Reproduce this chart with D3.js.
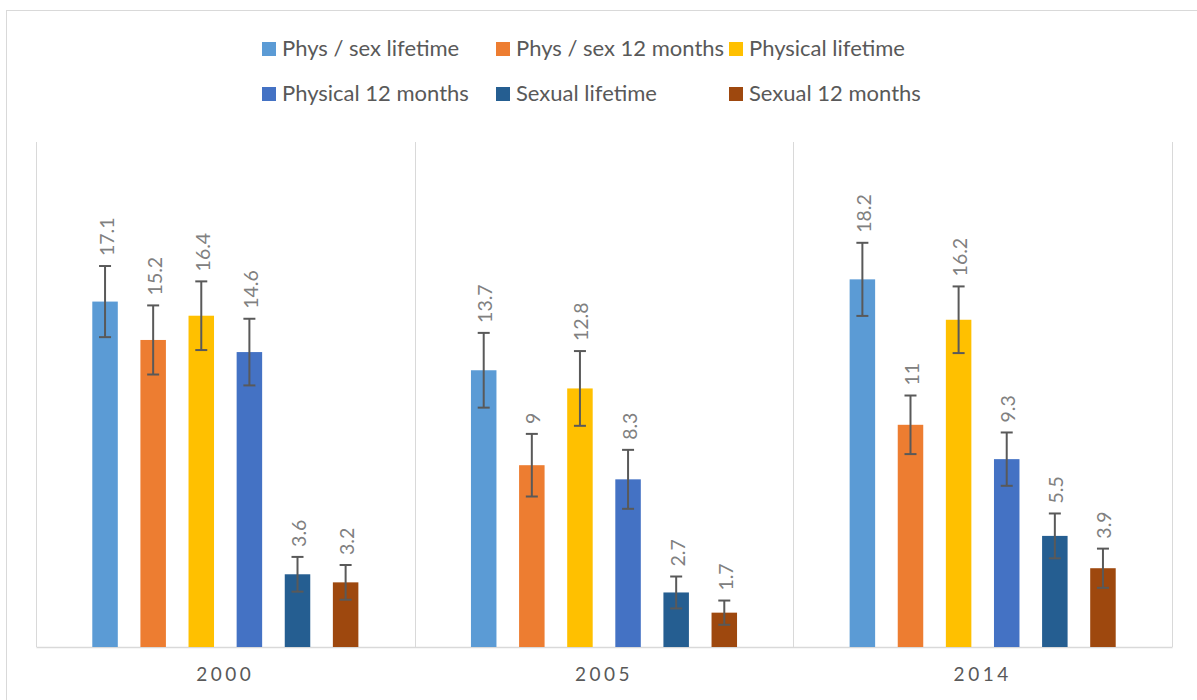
<!DOCTYPE html>
<html>
<head>
<meta charset="utf-8">
<script src="https://cdn.jsdelivr.net/npm/d3@7"></script>
<style>
  html, body { margin: 0; padding: 0; background: #fff; }
  svg { display: block; }
  text { font-family: Lato, "Open Sans", sans-serif; }
</style>
</head>
<body>
<svg id="chart" width="1197" height="700"></svg>
<script>
// ---- data ----
const years = ["2000", "2005", "2014"];
const seriesNames = ["Phys / sex lifetime", "Phys / sex 12 months", "Physical lifetime",
                     "Physical 12 months", "Sexual lifetime", "Sexual 12 months"];
const seriesColors = ["#5B9BD5", "#ED7D31", "#FFC000", "#4472C4", "#255E91", "#9E480E"];
const physSexLifetime = [17.1, 13.7, 18.2];
const physSex12m      = [15.2, 9.0, 11.0];
const physLifetime    = [16.4, 12.8, 16.2];
const phys12m         = [14.6, 8.3, 9.3];
const sexLifetime     = [3.6, 2.7, 5.5];
const sex12m          = [3.2, 1.7, 3.9];
// error bar half-widths (±)
const errPhysSexLifetime = [1.76, 1.85, 1.81];
const errPhysSex12m      = [1.71, 1.55, 1.45];
const errPhysLifetime    = [1.70, 1.85, 1.65];
const errPhys12m         = [1.65, 1.46, 1.32];
const errSexLifetime     = [0.86, 0.79, 1.11];
const errSex12m          = [0.86, 0.60, 0.97];
const yDomain = [0, 25];

const values = [physSexLifetime, physSex12m, physLifetime, phys12m, sexLifetime, sex12m];
const errors = [errPhysSexLifetime, errPhysSex12m, errPhysLifetime, errPhys12m, errSexLifetime, errSex12m];

const rows = [];
years.forEach((yr, i) => {
  seriesNames.forEach((s, j) => {
    rows.push({ year: yr, series: s, color: seriesColors[j], value: values[j][i], err: errors[j][i] });
  });
});

// ---- layout ----
const svg = d3.select("#chart");
const plot = { left: 36, right: 1172, top: 142, bottom: 647 };

// outer chart border (cropped on right/bottom)
svg.append("rect")
  .attr("x", 6.5).attr("y", 10.5)
  .attr("width", 1250).attr("height", 750)
  .attr("fill", "none").attr("stroke", "#d9d9d9").attr("stroke-width", 1);

const x0 = d3.scaleBand().domain(years).range([plot.left, plot.right]).padding(0);
const x1 = d3.scaleBand().domain(seriesNames).range([0, x0.bandwidth()])
  .paddingInner(0.47).paddingOuter(1.17);
const y = d3.scaleLinear().domain(yDomain).range([plot.bottom, plot.top]);

// vertical separators
const g = svg.append("g");
const seps = [plot.left].concat(years.map(yr => x0(yr) + x0.bandwidth()));
g.selectAll("line.sep").data(seps).join("line")
  .attr("class", "sep")
  .attr("x1", d => Math.round(d) + 0.5).attr("x2", d => Math.round(d) + 0.5)
  .attr("y1", plot.top).attr("y2", plot.bottom)
  .attr("stroke", "#d9d9d9").attr("stroke-width", 1);

// x axis
const xAxis = d3.axisBottom(x0).tickSize(0).tickPadding(0);
const ax = svg.append("g").attr("transform", `translate(0,${plot.bottom})`).call(xAxis);
ax.select(".domain").attr("stroke", "#d9d9d9").attr("stroke-width", 1.5);
ax.selectAll(".tick text")
  .attr("y", 34)
  .attr("dy", 0)
  .attr("fill", "#595959")
  .style("font-size", "19px")
  .style("letter-spacing", "3.5px")
  .style("font-family", "Lato, sans-serif");

// bars
const bars = svg.append("g");
bars.selectAll("rect").data(rows).join("rect")
  .attr("x", d => x0(d.year) + x1(d.series))
  .attr("width", x1.bandwidth())
  .attr("y", d => y(d.value))
  .attr("height", d => y(0) - y(d.value))
  .attr("fill", d => d.color);

// error bars
const eb = svg.append("g").attr("stroke", "#595959").attr("stroke-width", 2);
rows.forEach(d => {
  const cx = x0(d.year) + x1(d.series) + x1.bandwidth() / 2;
  const yt = y(d.value + d.err), yb = y(d.value - d.err);
  eb.append("line").attr("x1", cx).attr("x2", cx).attr("y1", yt).attr("y2", yb);
  eb.append("line").attr("x1", cx - 6).attr("x2", cx + 6).attr("y1", yt).attr("y2", yt);
  eb.append("line").attr("x1", cx - 6).attr("x2", cx + 6).attr("y1", yb).attr("y2", yb);
});

// data labels (rotated)
svg.append("g").selectAll("text").data(rows).join("text")
  .attr("transform", d => {
    const cx = x0(d.year) + x1(d.series) + x1.bandwidth() / 2 + 1;
    const yy = y(d.value + d.err) - 10;
    return `translate(${cx},${yy}) rotate(-90)`;
  })
  .attr("text-anchor", "start")
  .attr("dominant-baseline", "central")
  .attr("fill", "#808080")
  .style("font-size", "19.5px")
  .text(d => d3.format("")(d.value));

// legend
const legendPos = [[262, 49], [496, 49], [729, 49], [262, 94], [496, 94], [729, 94]];
const lg = svg.append("g");
seriesNames.forEach((s, j) => {
  const [lx, ly] = legendPos[j];
  lg.append("rect").attr("x", lx).attr("y", ly - 7).attr("width", 14).attr("height", 14)
    .attr("fill", seriesColors[j]);
  lg.append("text").attr("x", lx + 20).attr("y", ly - 1.5)
    .attr("dominant-baseline", "central")
    .attr("fill", "#595959")
    .style("font-size", "22px")
    .text(s);
});
</script>
</body>
</html>
